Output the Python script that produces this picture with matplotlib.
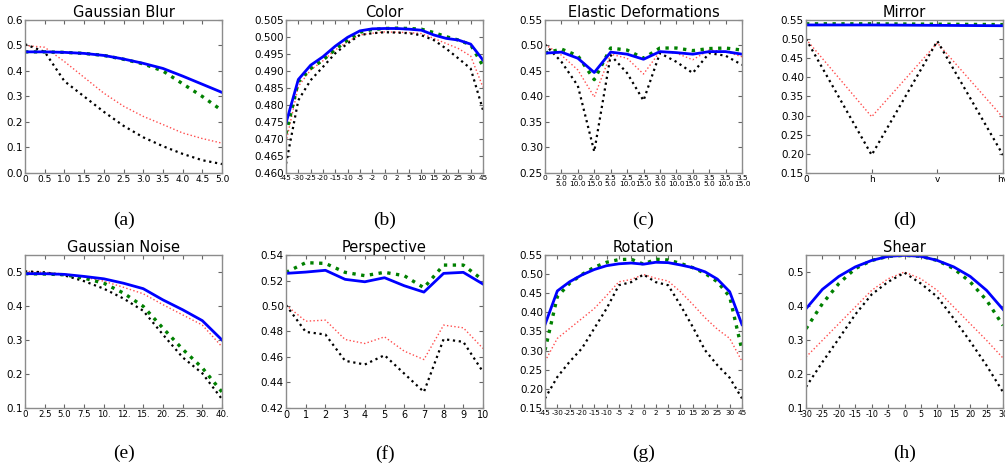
import matplotlib
matplotlib.use("Agg")
import matplotlib.pyplot as plt

plt.rcParams['axes.unicode_minus'] = False

# ---- data ----
blur_x = [0, 0.5, 1.0, 1.5, 2.0, 2.5, 3.0, 3.5, 4.0, 4.5, 5.0]
blur_blue = [0.475, 0.475, 0.473, 0.469, 0.461, 0.447, 0.430, 0.410, 0.380, 0.348, 0.316]
blur_green = [0.475, 0.475, 0.473, 0.469, 0.461, 0.446, 0.428, 0.400, 0.350, 0.300, 0.245]
blur_red = [0.500, 0.493, 0.437, 0.375, 0.313, 0.262, 0.222, 0.190, 0.157, 0.135, 0.117]
blur_black = [0.505, 0.475, 0.360, 0.300, 0.240, 0.185, 0.140, 0.105, 0.075, 0.050, 0.035]

angle_labels = ['-45', '-30', '-25', '-20', '-15', '-10', '-5', '-2', '0',
                '2', '5', '10', '15', '20', '25', '30', '45']

color_blue = [0.4747, 0.4875, 0.4917, 0.4942, 0.4973, 0.4999, 0.5018, 0.5024, 0.5025,
              0.5025, 0.5023, 0.5020, 0.5006, 0.4996, 0.4991, 0.4979, 0.4932]
color_green = [0.4716, 0.4868, 0.4907, 0.4932, 0.4963, 0.4991, 0.5014, 0.5022, 0.5025,
               0.5026, 0.5025, 0.5023, 0.5013, 0.5001, 0.4991, 0.4977, 0.4915]
color_red = [0.4691, 0.4855, 0.4903, 0.4930, 0.4962, 0.4986, 0.5006, 0.5011, 0.5015,
             0.5014, 0.5013, 0.5010, 0.4996, 0.4981, 0.4966, 0.4944, 0.4852]
color_black = [0.4627, 0.4814, 0.4873, 0.4912, 0.4952, 0.4981, 0.5006, 0.5011, 0.5014,
               0.5013, 0.5011, 0.5005, 0.4991, 0.4966, 0.4937, 0.4907, 0.4785]

elastic_labels = ['0', '2.0\n5.0', '2.0\n10.0', '2.0\n15.0', '2.5\n5.0', '2.5\n10.0',
                  '2.5\n15.0', '3.0\n5.0', '3.0\n10.0', '3.0\n15.0', '3.5\n5.0',
                  '3.5\n10.0', '3.5\n15.0']
elastic_blue = [0.485, 0.487, 0.475, 0.447, 0.487, 0.483, 0.473, 0.488, 0.486, 0.483, 0.488, 0.488, 0.483]
elastic_green = [0.485, 0.493, 0.480, 0.433, 0.495, 0.491, 0.475, 0.495, 0.495, 0.490, 0.494, 0.495, 0.491]
elastic_red = [0.502, 0.481, 0.452, 0.399, 0.483, 0.475, 0.444, 0.488, 0.485, 0.472, 0.491, 0.488, 0.478]
elastic_black = [0.502, 0.468, 0.421, 0.292, 0.481, 0.446, 0.392, 0.485, 0.468, 0.446, 0.485, 0.480, 0.462]

mirror_labels = ['0', 'h', 'v', 'hv']
mirror_blue = [0.537, 0.537, 0.536, 0.535]
mirror_green = [0.540, 0.540, 0.539, 0.538]
mirror_red = [0.500, 0.297, 0.490, 0.295]
mirror_black = [0.500, 0.197, 0.495, 0.197]

noise_labels = ['0', '2.5', '5.0', '7.5', '10.', '12.', '15.', '20.', '25.', '30.', '40.']
noise_blue = [0.495, 0.495, 0.493, 0.487, 0.480, 0.467, 0.451, 0.418, 0.389, 0.357, 0.300]
noise_green = [0.495, 0.494, 0.492, 0.482, 0.467, 0.438, 0.399, 0.335, 0.273, 0.218, 0.147]
noise_red = [0.502, 0.499, 0.494, 0.485, 0.473, 0.455, 0.436, 0.404, 0.374, 0.344, 0.280]
noise_black = [0.502, 0.499, 0.490, 0.473, 0.451, 0.422, 0.386, 0.316, 0.249, 0.202, 0.126]

persp_x = [0, 1, 2, 3, 4, 5, 6, 7, 8, 9, 10]
persp_blue = [0.5256, 0.5266, 0.5280, 0.5209, 0.5190, 0.5222, 0.5159, 0.5109, 0.5256, 0.5264, 0.5172]
persp_green = [0.5264, 0.5340, 0.5334, 0.5264, 0.5238, 0.5264, 0.5238, 0.5143, 0.5321, 0.5321, 0.5203]
persp_red = [0.5007, 0.4881, 0.4889, 0.4737, 0.4706, 0.4758, 0.4646, 0.4580, 0.4850, 0.4829, 0.4667]
persp_black = [0.5007, 0.4797, 0.4776, 0.4570, 0.4541, 0.4614, 0.4470, 0.4326, 0.4740, 0.4719, 0.4483]

rot_blue = [0.368, 0.456, 0.480, 0.498, 0.512, 0.522, 0.527, 0.529, 0.526,
            0.531, 0.530, 0.524, 0.517, 0.506, 0.487, 0.454, 0.368]
rot_green = [0.301, 0.441, 0.476, 0.499, 0.518, 0.531, 0.538, 0.539, 0.526,
             0.539, 0.537, 0.528, 0.517, 0.502, 0.480, 0.441, 0.301]
rot_red = [0.272, 0.332, 0.358, 0.384, 0.410, 0.444, 0.480, 0.486, 0.499,
           0.489, 0.482, 0.454, 0.421, 0.386, 0.356, 0.332, 0.272]
rot_black = [0.175, 0.231, 0.271, 0.306, 0.358, 0.410, 0.471, 0.479, 0.499,
             0.479, 0.471, 0.419, 0.362, 0.301, 0.262, 0.229, 0.175]

shear_x = [-30, -25, -20, -15, -10, -5, 0, 5, 10, 15, 20, 25, 30]
shear_blue = [0.392, 0.449, 0.487, 0.515, 0.534, 0.546, 0.549, 0.546, 0.534, 0.515, 0.487, 0.446, 0.390]
shear_green = [0.333, 0.407, 0.466, 0.510, 0.534, 0.546, 0.549, 0.546, 0.534, 0.510, 0.471, 0.417, 0.343]
shear_red = [0.250, 0.299, 0.348, 0.397, 0.446, 0.480, 0.500, 0.480, 0.446, 0.397, 0.348, 0.299, 0.247]
shear_black = [0.162, 0.235, 0.304, 0.375, 0.434, 0.471, 0.498, 0.466, 0.427, 0.363, 0.296, 0.225, 0.147]

titles = ['Gaussian Blur', 'Color', 'Elastic Deformations', 'Mirror',
          'Gaussian Noise', 'Perspective', 'Rotation', 'Shear']
letters = ['(a)', '(b)', '(c)', '(d)', '(e)', '(f)', '(g)', '(h)']


def draw(ax, x, blue, green, red, black):
    ax.plot(x, red, color='#ff4d4d', lw=1.0, ls=':')
    ax.plot(x, black, color='black', lw=1.6, ls=':')
    ax.plot(x, green, color='#008000', lw=2.4, ls=':')
    ax.plot(x, blue, color='#0000ff', lw=2.0, ls='-')


def style(ax, title, xfs=6.5, yfs=7.5):
    ax.set_title(title, fontsize=10.5, pad=2)
    ax.tick_params(direction='in', length=3, top=True, right=True,
                   color='0.4', pad=1.5)
    ax.tick_params(axis='x', labelsize=xfs)
    ax.tick_params(axis='y', labelsize=yfs)
    for s in ax.spines.values():
        s.set_color('0.55')
        s.set_linewidth(1.0)


fig = plt.figure(figsize=(10.05, 4.65), dpi=100)
lefts = [0.0249, 0.2846, 0.5423, 0.802]
w = 0.196
h = 0.329
bottoms = [0.628, 0.1226]
axes = []
for r in range(2):
    for c in range(4):
        axes.append(fig.add_axes([lefts[c], bottoms[r], w, h]))

# (a) Gaussian blur
ax = axes[0]
draw(ax, blur_x, blur_blue, blur_green, blur_red, blur_black)
ax.set_xlim(0, 5)
ax.set_ylim(0, 0.6)
ax.set_xticks(blur_x)
ax.set_xticklabels(['0'] + ['%.1f' % v for v in blur_x[1:]])
style(ax, titles[0], xfs=6.5)

# (b) Color
ax = axes[1]
idx = list(range(len(angle_labels)))
draw(ax, idx, color_blue, color_green, color_red, color_black)
ax.set_xlim(0, 16)
ax.set_ylim(0.460, 0.505)
ax.set_xticks(idx)
ax.set_xticklabels(angle_labels)
ax.set_yticks([0.460, 0.465, 0.470, 0.475, 0.480, 0.485, 0.490, 0.495, 0.500, 0.505])
ax.set_yticklabels(['%.3f' % v for v in ax.get_yticks()])
style(ax, titles[1], xfs=5.2)

# (c) Elastic deformations
ax = axes[2]
idx = list(range(len(elastic_labels)))
draw(ax, idx, elastic_blue, elastic_green, elastic_red, elastic_black)
ax.set_xlim(0, 12)
ax.set_ylim(0.25, 0.55)
ax.set_xticks(idx)
ax.set_xticklabels(elastic_labels, linespacing=1.0)
ax.set_yticks([0.25, 0.30, 0.35, 0.40, 0.45, 0.50, 0.55])
ax.set_yticklabels(['%.2f' % v for v in ax.get_yticks()])
style(ax, titles[2], xfs=5.4)

# (d) Mirror
ax = axes[3]
idx = list(range(len(mirror_labels)))
draw(ax, idx, mirror_blue, mirror_green, mirror_red, mirror_black)
ax.set_xlim(0, 3)
ax.set_ylim(0.15, 0.55)
ax.set_xticks(idx)
ax.set_xticklabels(mirror_labels)
ax.set_yticks([0.15, 0.20, 0.25, 0.30, 0.35, 0.40, 0.45, 0.50, 0.55])
ax.set_yticklabels(['%.2f' % v for v in ax.get_yticks()])
style(ax, titles[3], xfs=6.5)

# (e) Gaussian noise
ax = axes[4]
idx = list(range(len(noise_labels)))
draw(ax, idx, noise_blue, noise_green, noise_red, noise_black)
ax.set_xlim(0, 10)
ax.set_ylim(0.1, 0.55)
ax.set_xticks(idx)
ax.set_xticklabels(noise_labels)
ax.set_yticks([0.1, 0.2, 0.3, 0.4, 0.5])
style(ax, titles[4], xfs=6.2)

# (f) Perspective
ax = axes[5]
draw(ax, persp_x, persp_blue, persp_green, persp_red, persp_black)
ax.set_xlim(0, 10)
ax.set_ylim(0.42, 0.54)
ax.set_xticks(persp_x)
ax.set_yticks([0.42, 0.44, 0.46, 0.48, 0.50, 0.52, 0.54])
ax.set_yticklabels(['%.2f' % v for v in ax.get_yticks()])
style(ax, titles[5], xfs=7)

# (g) Rotation
ax = axes[6]
idx = list(range(len(angle_labels)))
draw(ax, idx, rot_blue, rot_green, rot_red, rot_black)
ax.set_xlim(0, 16)
ax.set_ylim(0.15, 0.55)
ax.set_xticks(idx)
ax.set_xticklabels(angle_labels)
ax.set_yticks([0.15, 0.20, 0.25, 0.30, 0.35, 0.40, 0.45, 0.50, 0.55])
ax.set_yticklabels(['%.2f' % v for v in ax.get_yticks()])
style(ax, titles[6], xfs=5.2)

# (h) Shear
ax = axes[7]
draw(ax, shear_x, shear_blue, shear_green, shear_red, shear_black)
ax.set_xlim(-30, 30)
ax.set_ylim(0.1, 0.55)
ax.set_xticks(shear_x)
ax.set_yticks([0.1, 0.2, 0.3, 0.4, 0.5])
style(ax, titles[7], xfs=5.8)

# panel letters below each axes
for i, ax in enumerate(axes):
    pos = ax.get_position()
    ytxt = 0.527 if i < 4 else 0.024
    fig.text(pos.x0 + pos.width / 2, ytxt, letters[i], ha='center', va='center',
             fontsize=14, family='Liberation Serif')

fig.savefig('out.png', dpi=100)
